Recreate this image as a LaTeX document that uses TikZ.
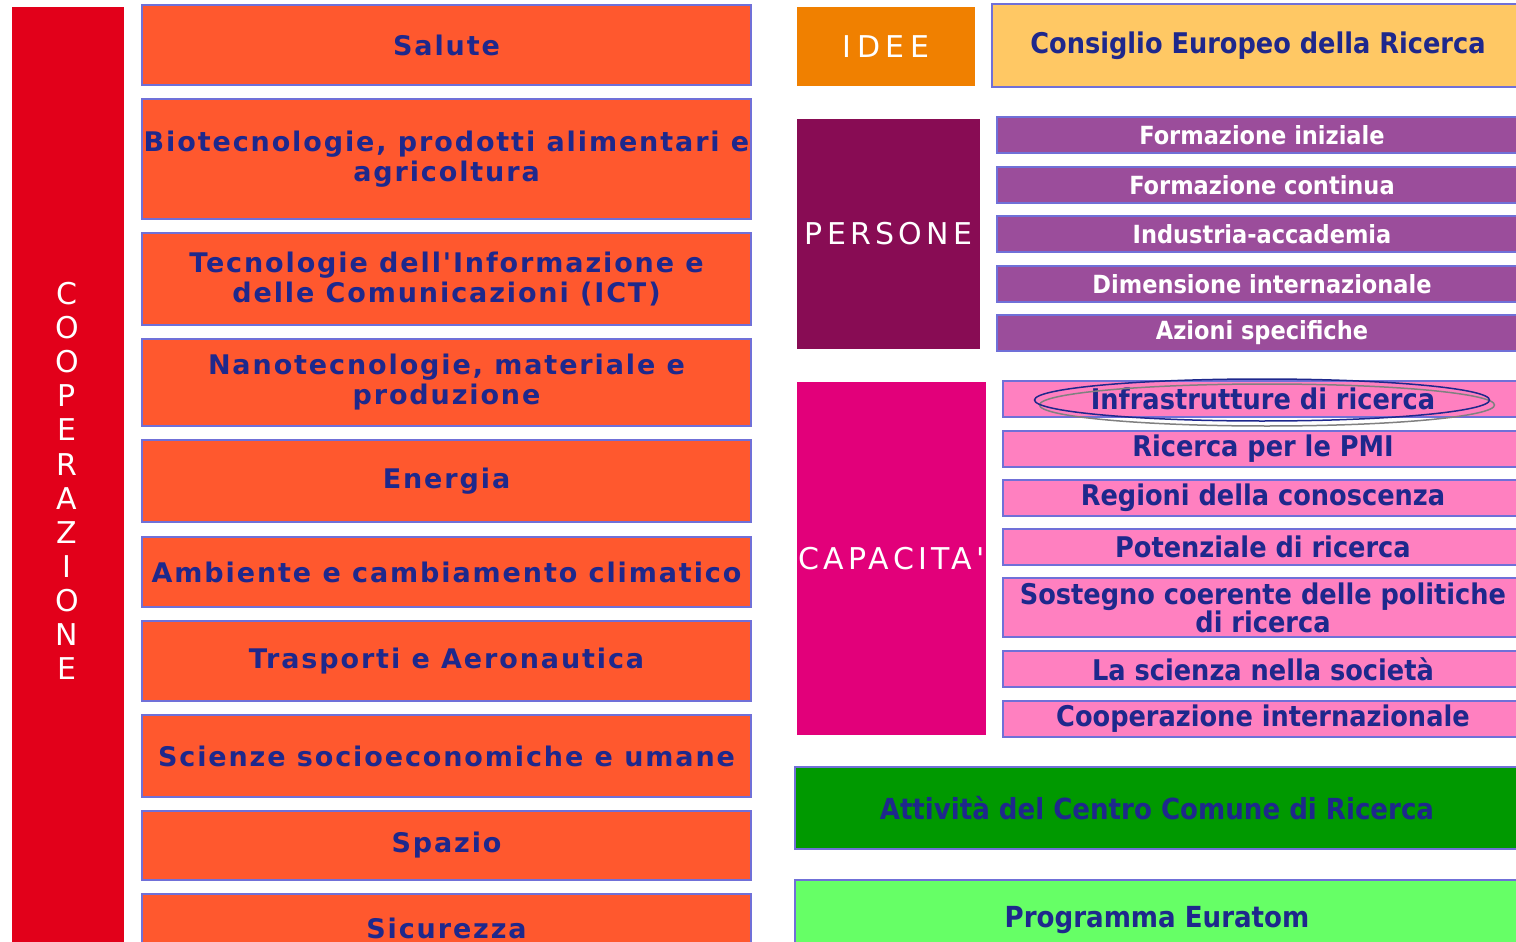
\documentclass[tikz,border=0pt]{standalone}
\usepackage{fontspec}
\usetikzlibrary{shapes.geometric}
\setmainfont{DejaVu Sans}
\newfontfamily\wideb[LetterSpace=7]{DejaVu Sans}
\newfontfamily\condb{DejaVu Sans Condensed}
\newfontfamily\capsf[LetterSpace=14]{DejaVu Sans}
\newfontfamily\ideef[LetterSpace=18]{DejaVu Sans}
\definecolor{redbar}{RGB}{226,0,26}
\definecolor{orangebox}{RGB}{255,88,46}
\definecolor{ideec}{RGB}{240,128,0}
\definecolor{consc}{RGB}{255,200,100}
\definecolor{persc}{RGB}{136,12,84}
\definecolor{perssub}{RGB}{155,77,155}
\definecolor{capc}{RGB}{226,0,122}
\definecolor{capsub}{RGB}{255,128,192}
\definecolor{attc}{RGB}{0,153,0}
\definecolor{eurc}{RGB}{102,255,102}
\definecolor{edgec}{RGB}{112,112,216}
\definecolor{txt}{RGB}{30,40,140}
\tikzset{
  base/.style={anchor=north west, inner sep=0pt, outer sep=0pt, align=center},
  obox/.style={base, draw=edgec, line width=2pt, fill=orangebox, text=txt,
    minimum width=609pt, font=\wideb\bfseries\fontsize{27}{30}\selectfont},
  bigbox/.style={base, text=white, font=\capsf\fontsize{30}{34}\selectfont},
  subbox/.style={base, draw=edgec, line width=2pt, font=\condb\bfseries\fontsize{22}{28}\selectfont},
  pbox/.style={subbox, fill=perssub, text=white, minimum width=530pt, minimum height=36pt,
    font=\condb\bfseries\fontsize{25}{28}\selectfont},
  cbox/.style={subbox, fill=capsub, text=txt, minimum width=520pt,
    font=\condb\bfseries\fontsize{28.5}{28}\selectfont},
  widebox/.style={subbox, text=txt, minimum width=724pt, font=\condb\bfseries\fontsize{29}{30}\selectfont},
  ring/.style={ellipse, draw, inner sep=0pt}
}
\begin{document}
\begin{tikzpicture}[x=1pt,y=-1pt]
\useasboundingbox (0,0) rectangle (1516,942);
% COOPERAZIONE
\node[base, fill=redbar, minimum width=112pt, minimum height=960pt] (coop) at (12,7) {};
\node[text=white, align=center, font=\fontsize{30}{34.1}\selectfont] (cooptxt) at (67,481)
  {C\\O\\O\\P\\E\\R\\A\\Z\\I\\O\\N\\E};
\node[obox, minimum height=80pt] (s1) at (142,5) {Salute};
\node[obox, minimum height=120pt] (s2) at (142,99) {Biotecnologie, prodotti alimentari e\\agricoltura};
\node[obox, minimum height=92pt] (s3) at (142,233) {Tecnologie dell'Informazione e\\delle Comunicazioni (ICT)};
\node[obox, minimum height=87pt] (s4) at (142,339) {Nanotecnologie, materiale e\\produzione};
\node[obox, minimum height=82pt] (s5) at (142,440) {Energia};
\node[obox, minimum height=70pt] (s6) at (142,537) {Ambiente e cambiamento climatico};
\node[obox, minimum height=80pt] (s7) at (142,621) {Trasporti e Aeronautica};
\node[obox, minimum height=82pt] (s8) at (142,715) {Scienze socioeconomiche e umane};
\node[obox, minimum height=69pt] (s9) at (142,811) {Spazio};
\node[obox, minimum height=68pt] (s10) at (142,894) {Sicurezza};
% IDEE
\node[bigbox, fill=ideec, minimum width=178pt, minimum height=79pt, font=\ideef\fontsize{30}{34}\selectfont] (idee) at (797,7) {IDEE};
\node[widebox, fill=consc, minimum width=532pt, minimum height=83pt,
  font=\condb\bfseries\fontsize{28.5}{30}\selectfont] (erc) at (992,4) {Consiglio Europeo della Ricerca};
% PERSONE
\node[bigbox, fill=persc, minimum width=183pt, minimum height=230pt] (pers) at (797,119) {PERSONE};
\node[pbox] (p1) at (997,117) {Formazione iniziale};
\node[pbox] (p2) at (997,167) {Formazione continua};
\node[pbox] (p3) at (997,216) {Industria-accademia};
\node[pbox] (p4) at (997,266) {Dimensione internazionale};
\node[pbox] (p5) at (997,315) {Azioni specifiche};
% CAPACITA'
\node[bigbox, fill=capc, minimum width=189pt, minimum height=353pt] (cap) at (797,382) {CAPACITA'};
\node[cbox, minimum height=36pt] (c1) at (1003,381) {Infrastrutture di ricerca};
\node[cbox, minimum height=36pt] (c2) at (1003,431) {Ricerca per le PMI};
\node[cbox, minimum height=36pt] (c3) at (1003,480) {Regioni della conoscenza};
\node[cbox, minimum height=36pt] (c4) at (1003,529) {Potenziale di ricerca};
\node[cbox, minimum height=59pt] (c5) at (1003,578) {Sostegno coerente delle politiche\\di ricerca};
\node[cbox, minimum height=36pt] (c6) at (1003,651) {La scienza nella società};
\node[cbox, minimum height=36pt] (c7) at (1003,701) {Cooperazione internazionale};
\node[ring, draw=gray, line width=1.5pt, minimum width=455pt, minimum height=42pt] (ring2) at (1267,405) {};
\node[ring, draw=txt, line width=1.5pt, minimum width=455pt, minimum height=42pt] (ring1) at (1262,400) {};
% JRC, Euratom
\node[widebox, fill=attc, minimum height=82pt] (jrc) at (795,767) {Attività del Centro Comune di Ricerca};
\node[widebox, fill=eurc, minimum height=80pt] (eur) at (795,880) {Programma Euratom};
\end{tikzpicture}
\end{document}
